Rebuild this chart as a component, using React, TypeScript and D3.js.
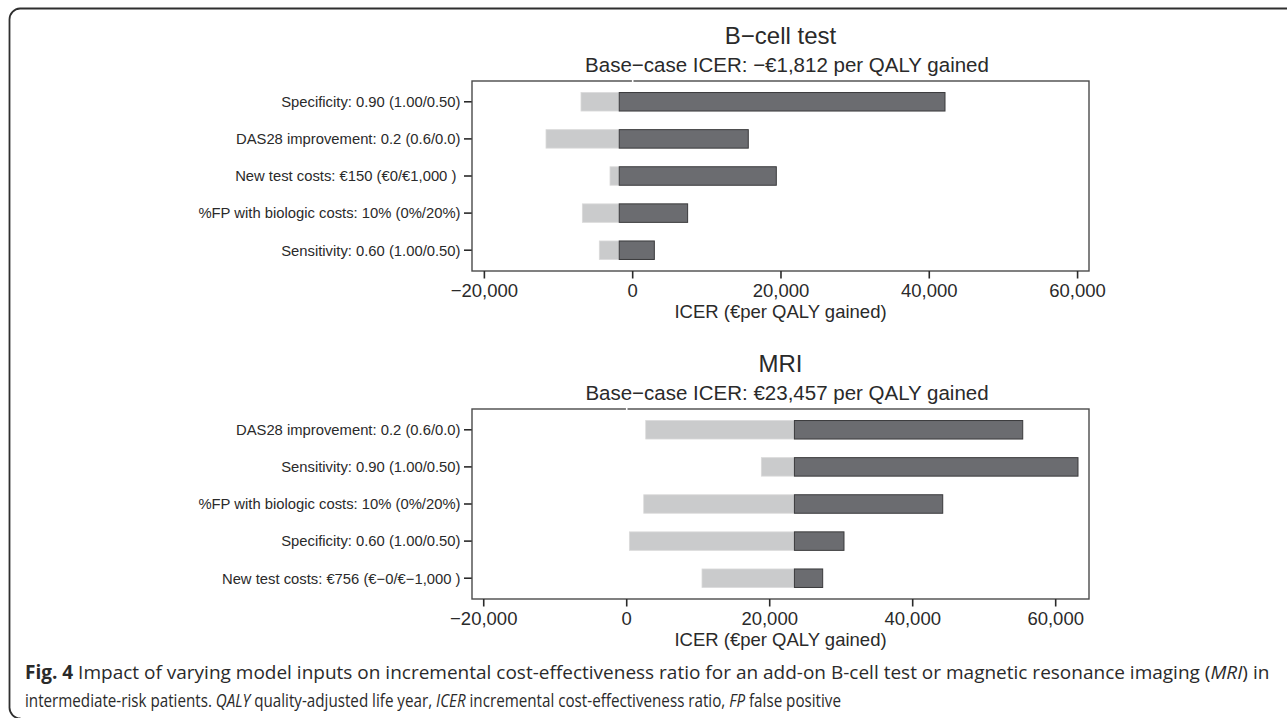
import React from 'react';
import * as d3 from 'd3';

const W = 1287;
const H = 718;

// B-cell test panel
const bcellLabels = [
  'Specificity: 0.90 (1.00/0.50)',
  'DAS28 improvement: 0.2 (0.6/0.0)',
  'New test costs: €150 (€0/€1,000 )\u00a0',
  '%FP with biologic costs: 10% (0%/20%)',
  'Sensitivity: 0.60 (1.00/0.50)',
];
const bcellLow = [-6970, -11690, -3060, -6790, -4500];
const bcellHigh = [42120, 15590, 19370, 7410, 2920];
const bcellBase = -1812;
const bcellDomain = [-21670, 61540];

// MRI panel
const mriLabels = [
  'DAS28 improvement: 0.2 (0.6/0.0)',
  'Sensitivity: 0.90 (1.00/0.50)',
  '%FP with biologic costs: 10% (0%/20%)',
  'Specificity: 0.60 (1.00/0.50)',
  'New test costs: €756 (€−0/€−1,000 )',
];
const mriLow = [2660, 18830, 2380, 370, 10530];
const mriHigh = [55390, 63120, 44200, 30390, 27410];
const mriBase = 23457;
const mriDomain = [-21640, 64660];

const xTicks = [-20000, 0, 20000, 40000, 60000];

const LIGHT = '#cacbcc';
const DARK = '#6b6c70';
const INK = '#2a2a2a';
const FONT = '"Liberation Sans", Arial, Helvetica, sans-serif';
const CAPTION_FONT = '"Open Sans", "Noto Sans", sans-serif';

const BOX_L = 472;
const BOX_R = 1089;
const BOX_H = 190;
const fmt = d3.format(',');

function Tornado({ top, title, subtitle, labels, low, high, base, domain }) {
  const bottom = top + BOX_H;
  const x = d3.scaleLinear().domain(domain).range([BOX_L, BOX_R]);
  const y = d3.scalePoint().domain(labels).range([top, bottom]).padding(0.56);
  const bh = 18.5;
  const xb = x(base);
  const cx = (BOX_L + BOX_R) / 2;

  return (
    <g fontFamily={FONT} fill={INK}>
      <text x={cx} y={top - 37.5} textAnchor="middle" fontSize={24}>{title}</text>
      <text x={cx + 6.5} y={top - 9.3} textAnchor="middle" fontSize={20.5}>{subtitle}</text>

      {labels.map((l, i) => {
        const cy = y(l);
        return (
          <g key={l}>
            <rect x={x(low[i])} y={cy - bh / 2} width={xb - x(low[i])} height={bh}
              fill={LIGHT} stroke="#dadada" strokeWidth={0.8} />
            <rect x={xb} y={cy - bh / 2} width={x(high[i]) - xb} height={bh}
              fill={DARK} stroke="#3a3a3c" strokeWidth={1} />
            <line x1={BOX_L - 8} x2={BOX_L} y1={cy} y2={cy} stroke={INK} strokeWidth={1.6} />
            <text x={BOX_L - 11.5} y={cy} dy="0.36em" textAnchor="end" fontSize={14.8}
              style={{ whiteSpace: 'pre' }}>{l}</text>
          </g>
        );
      })}

      <rect x={BOX_L} y={top} width={BOX_R - BOX_L} height={BOX_H}
        fill="none" stroke="#4a4a4a" strokeWidth={1.4} />
      {/* faint break in the top border where x = 0 */}
      <line x1={x(0)} x2={x(0)} y1={top - 1.5} y2={top + 1.5} stroke="#ffffff" strokeWidth={1.6} />

      {xTicks.map((t) => (
        <g key={t} transform={`translate(${x(t)},${bottom})`}>
          <line y1={0} y2={7.5} stroke={INK} strokeWidth={1.6} />
          <text y={26} textAnchor="middle" fontSize={18.5}>{fmt(t)}</text>
        </g>
      ))}
      <text x={cx} y={bottom + 46.5} textAnchor="middle" fontSize={18.5}>ICER (€per QALY gained)</text>
    </g>
  );
}

export default function App() {
  return (
    <svg width={W} height={H} style={{ position: 'absolute', left: 0, top: 0, background: '#fff' }}>
      {/* outer frame, open on the right and bottom */}
      <path d="M1300,8.5 H20 A11,11 0 0 0 9.5,19.5 V707 A11,11 0 0 0 20.5,718.5"
        fill="none" stroke="#2f2f2f" strokeWidth={1.8} />

      <Tornado top={81} title="B−cell test" subtitle="Base−case ICER: −€1,812 per QALY gained"
        labels={bcellLabels} low={bcellLow} high={bcellHigh} base={bcellBase} domain={bcellDomain} />
      <Tornado top={409} title="MRI" subtitle="Base−case ICER: €23,457 per QALY gained"
        labels={mriLabels} low={mriLow} high={mriHigh} base={mriBase} domain={mriDomain} />

      <g fontFamily={CAPTION_FONT} fontSize={19} fill="#2a2a2a">
        <text x={25} y={679}>
          <tspan fontWeight="bold">Fig. 4</tspan> Impact of varying model inputs on incremental cost-effectiveness ratio for an add-on B-cell test or magnetic resonance imaging (<tspan fontStyle="italic">MRI</tspan>) in
        </text>
        <g transform="translate(25,0) scale(0.8,1)">
          <text x={0} y={707}>
            intermediate-risk patients. <tspan fontStyle="italic">QALY</tspan> quality-adjusted life year, <tspan fontStyle="italic">ICER</tspan> incremental cost-effectiveness ratio, <tspan fontStyle="italic">FP</tspan> false positive
          </text>
        </g>
      </g>
    </svg>
  );
}
